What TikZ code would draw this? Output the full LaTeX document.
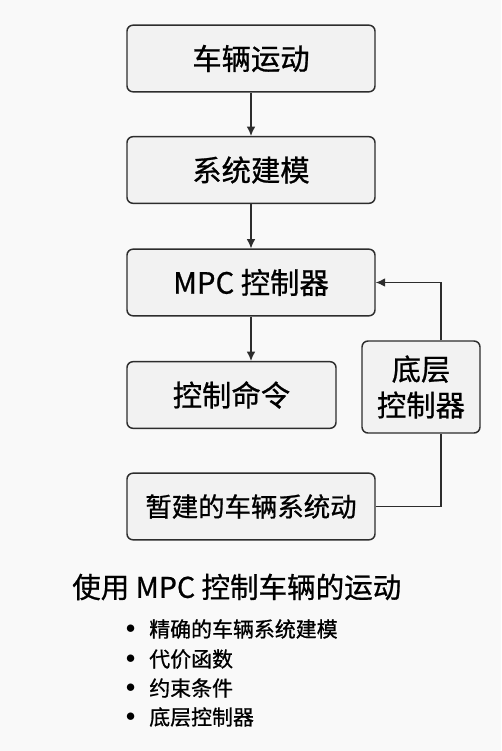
\documentclass[tikz,border=0pt]{standalone}
\usepackage{fontspec}
\setmainfont{Noto Sans CJK SC}[RawFeature={embolden=0.8}]
\usetikzlibrary{arrows.meta}
\usetikzlibrary{positioning}
\definecolor{bggray}{RGB}{249,249,249}
\definecolor{boxgray}{RGB}{242,242,242}
\definecolor{linegray}{RGB}{45,45,45}

\begin{document}
\begin{tikzpicture}[x=0.75pt,y=-0.75pt,>={Latex[length=7pt,width=6.5pt]},
  box/.style={draw=linegray,fill=boxgray,line width=1.1pt,rounded corners=4.5pt,minimum width=186pt,minimum height=50pt,font=\fontsize{22}{27}\selectfont},
  item/.style={anchor=west,inner sep=0pt,font=\fontsize{15.7}{18}\selectfont,label={[inner sep=0pt,xshift=-10pt,font=\fontsize{14}{14}\selectfont]left:$\bullet$}}]

\fill[bggray] (0,0) rectangle (501,751);
\useasboundingbox (0,0) rectangle (501,751);

% main chain
\node[box] (car) at (251,58.5) {车辆运动};
\node[box] (model) at (251,170) {系统建模};
\node[box] (mpc) at (251,282.5) {MPC 控制器};
\node[box,minimum width=156.75pt] (cmd) at (231.5,395) {控制命令};
\node[box,font=\fontsize{19.8}{24}\selectfont] (plant) at (251,506.5) {暂建的车辆系统动};
\node[box,minimum width=88.5pt,minimum height=69pt,align=center] (low) at (421,387) {底层\\控制器};

\draw[linegray,line width=1pt,->] (car) -- (model);
\draw[linegray,line width=1pt,->] (model) -- (mpc);
\draw[linegray,line width=1pt,->] (mpc) -- (cmd.north -| mpc);

% feedback loop
\coordinate (fb) at (441,433);
\draw[linegray,line width=1pt] (plant.east) -| (low.south -| fb);
\draw[linegray,line width=1pt,->] (low.north -| fb) |- (mpc.east);

% caption
\node[anchor=west,inner sep=0pt,font=\fontsize{21.4}{25}\selectfont] (title) at (72,587) {使用 MPC 控制车辆的运动};
\node[item] (i1) at (149,629) {精确的车辆系统建模};
\node[item] (i2) at (149,659) {代价函数};
\node[item] (i3) at (149,688) {约束条件};
\node[item] (i4) at (149,717) {底层控制器};
\end{tikzpicture}
\end{document}
